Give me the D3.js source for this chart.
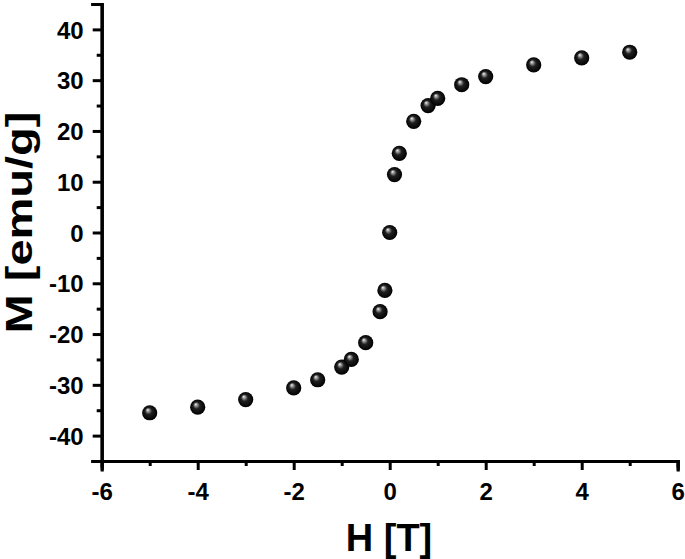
<!DOCTYPE html>
<html><head><meta charset="utf-8">
<script src="https://cdn.jsdelivr.net/npm/d3@7"></script>
<style>body{margin:0;background:#fff}svg{display:block}text{font-family:"Liberation Sans",Arial,sans-serif;font-weight:bold;fill:#000}</style>
</head><body>
<script>
const fieldT = [-5, -4, -3, -2, -1.5, -1, -0.8, -0.5, -0.2, -0.1, 0, 0.1, 0.2, 0.5, 0.8, 1, 1.5, 2, 3, 4, 5];
const magnetization = [-35.5, -34.4, -32.9, -30.6, -29.0, -26.5, -25.0, -21.7, -15.6, -11.4, 0.0, 11.4, 15.6, 21.9, 25.0, 26.4, 29.1, 30.7, 33.0, 34.4, 35.5];
const xTicks = [-6, -4, -2, 0, 2, 4, 6];
const xMinor = [-5, -3, -1, 1, 3, 5];
const yTicks = [-40, -30, -20, -10, 0, 10, 20, 30, 40];
const yMinor = [-35, -25, -15, -5, 5, 15, 25, 35];
const xTitle = "H [T]";
const yTitle = "M [emu/g]";

const W = 685, H = 559;
const svg = d3.select("body").append("svg").attr("width", W).attr("height", H);
const x = d3.scaleLinear().domain([-6, 6]).range([101.7, 677.7]);
const y = d3.scaleLinear().domain([-45, 45]).range([461, 4]);
const fmt = d => String(d); // hyphen-minus as in the reference

const defs = svg.append("defs");
const g = defs.append("radialGradient").attr("id", "ball")
  .attr("cx", "50%").attr("cy", "50%").attr("r", "50%")
  .attr("fx", "36%").attr("fy", "30%");
g.append("stop").attr("offset", "0%").attr("stop-color", "#f4f4f4");
g.append("stop").attr("offset", "18%").attr("stop-color", "#9a9a9a");
g.append("stop").attr("offset", "45%").attr("stop-color", "#202020");
g.append("stop").attr("offset", "100%").attr("stop-color", "#000");

// axes
const xAxis = svg.append("g").attr("transform", `translate(0,${y(-45)})`)
  .call(d3.axisBottom(x).tickValues(xTicks).tickSize(9).tickPadding(13).tickFormat(fmt));
const xAxisMinor = svg.append("g").attr("transform", `translate(0,${y(-45)})`)
  .call(d3.axisBottom(x).tickValues(xMinor).tickSize(5).tickFormat(""));
const yAxis = svg.append("g").attr("transform", `translate(${x(-6)},0)`)
  .call(d3.axisLeft(y).tickValues(yTicks).tickSize(9).tickPadding(9).tickFormat(fmt));
const yAxisMinor = svg.append("g").attr("transform", `translate(${x(-6)},0)`)
  .call(d3.axisLeft(y).tickValues(yMinor).tickSize(5).tickFormat(""));

[xAxis, xAxisMinor, yAxis, yAxisMinor].forEach(a => {
  a.select(".domain").attr("stroke", "#000").attr("stroke-width", 3.2).attr("stroke-linecap", "square");
  a.selectAll(".tick line").attr("stroke", "#000").attr("stroke-width", 3);
  a.selectAll(".tick text").style("font-size", "24px").style("font-family", '"Liberation Sans",Arial,sans-serif').style("font-weight", "bold").attr("fill", "#000");
});
xAxis.selectAll(".tick text").attr("dy", "0.71em");
yAxis.selectAll(".tick text").attr("dy", "0.36em");

// titles
svg.append("text").attr("x", 389).attr("y", 551).attr("text-anchor", "middle")
  .style("font-size", "38px").text(xTitle);
svg.append("text").attr("transform", `translate(32,${222.5}) rotate(-90)`).attr("text-anchor", "middle")
  .attr("textLength", 222).attr("lengthAdjust", "spacingAndGlyphs")
  .style("font-size", "37px").text(yTitle);

// points
const pts = fieldT.map((h, i) => ({h, m: magnetization[i]}));
svg.append("g").selectAll("circle").data(pts).join("circle")
  .attr("cx", d => x(d.h)).attr("cy", d => y(d.m)).attr("r", 7.6)
  .attr("fill", "url(#ball)");
</script>
</body></html>
